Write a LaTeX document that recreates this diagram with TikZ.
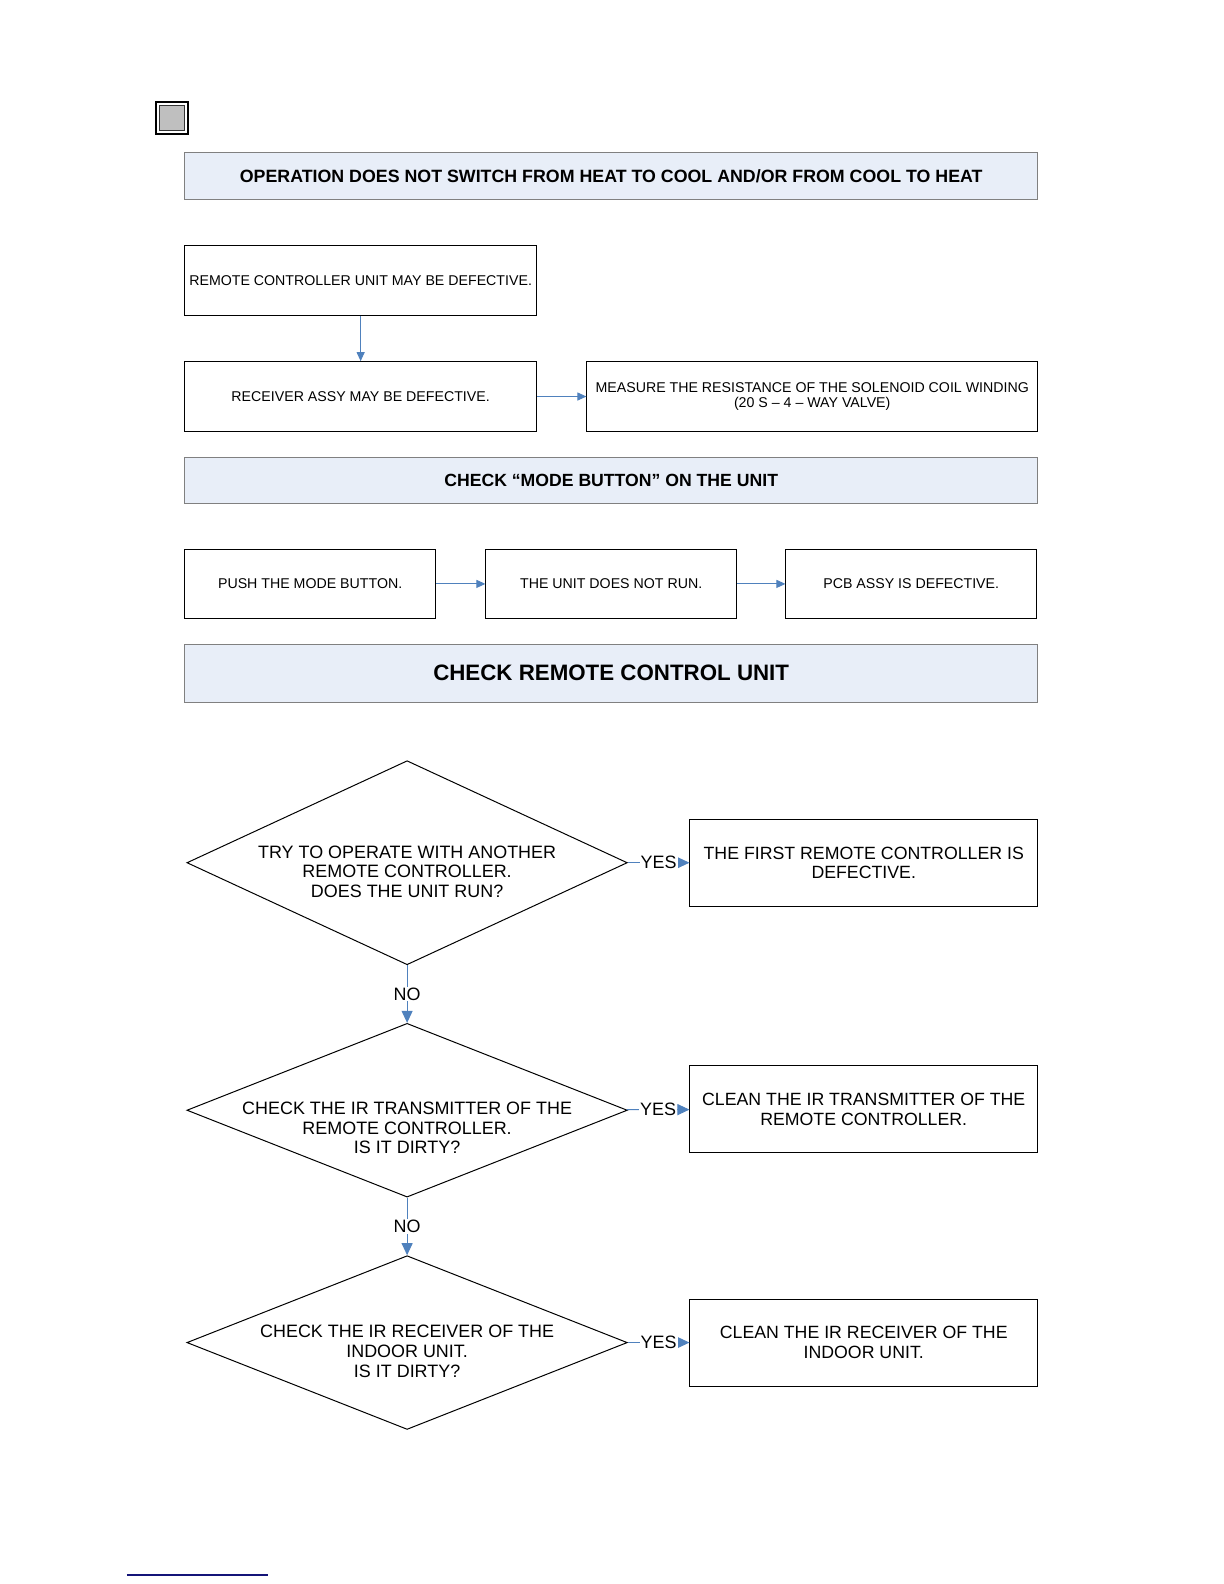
\documentclass[tikz,border=0pt]{standalone}
\usepackage{fontspec}
\setmainfont{Liberation Sans}
\usetikzlibrary{shapes.geometric,arrows.meta}

\definecolor{headfill}{RGB}{232,238,248}
\definecolor{headline}{RGB}{128,128,128}
\definecolor{flow}{RGB}{79,129,189}
\definecolor{footrule}{RGB}{20,20,120}

\newdimen\pxunit
\pxunit=0.5051bp

% lowers the text of a diamond, keeping its size
\newcommand{\downtext}[2]{\raisebox{-#1}[\height][\depth]{\begin{tabular}{@{}c@{}}#2\end{tabular}}}

\begin{document}
\begin{tikzpicture}[x=\pxunit,y=-\pxunit]

      \useasboundingbox (0,0) rectangle (1211.6,1568);

      % corner mark
      \node[draw,line width=1.1bp,minimum size=16bp,inner sep=0] (mark) at (170.5,116.5) {};
      \node[draw=black!80,fill=black!25,line width=0.4bp,minimum size=12.5bp,inner sep=0] (markin) at (mark) {};

      \begin{scope}[every node/.style={draw=headline,fill=headfill,line width=0.5bp,minimum width=844\pxunit,inner sep=0,font=\bfseries\fontsize{8.93}{10}\selectfont}]
        \node[minimum height=46\pxunit] (heat)    at (605,174)   {OPERATION DOES NOT SWITCH FROM HEAT TO COOL AND/OR FROM COOL TO HEAT};
        \node[minimum height=45\pxunit,font=\bfseries\fontsize{8.85}{10}\selectfont] (mode) at (605,475.5) {CHECK “MODE BUTTON” ON THE UNIT};
        \node[minimum height=57\pxunit,font=\bfseries\fontsize{11.2}{13}\selectfont] (remunit) at (605,666.5) {CHECK REMOTE CONTROL UNIT};
      \end{scope}

      \begin{scope}[every node/.style={draw,line width=0.5bp,inner sep=0,align=center,font=\fontsize{7.12}{8}\selectfont}]
        \node[minimum width=348\pxunit,minimum height=69\pxunit] (remote)   at (357,277.5) {REMOTE CONTROLLER UNIT MAY BE DEFECTIVE.};
        \node[minimum width=348\pxunit,minimum height=69\pxunit] (receiver) at (357,392.5) {RECEIVER ASSY MAY BE DEFECTIVE.};
        \node[minimum width=446\pxunit,minimum height=69\pxunit] (measure)  at (804,392.5) {MEASURE THE RESISTANCE OF THE SOLENOID COIL WINDING\\(20 S -- 4 -- WAY VALVE)};
        \node[minimum width=248\pxunit,minimum height=68\pxunit] (push)     at (307,578)   {PUSH THE MODE BUTTON.};
        \node[minimum width=248\pxunit,minimum height=68\pxunit] (norun)    at (605,578)   {THE UNIT DOES NOT RUN.};
        \node[minimum width=248\pxunit,minimum height=68\pxunit] (pcb)      at (902,578)   {PCB ASSY IS DEFECTIVE.};
      \end{scope}

      \begin{scope}[every node/.style={draw,line width=0.5bp,inner sep=0,align=center,minimum width=344\pxunit,minimum height=86\pxunit,font=\fontsize{8.9}{9.8}\selectfont}]
        \node (first)  at (855,854)  {THE FIRST REMOTE CONTROLLER IS\\DEFECTIVE.};
        \node (cleant) at (855,1098) {CLEAN THE IR TRANSMITTER OF THE\\REMOTE CONTROLLER.};
        \node (cleanr) at (855,1329) {CLEAN THE IR RECEIVER OF THE\\INDOOR UNIT.};
      \end{scope}

      \begin{scope}[every node/.style={diamond,draw,line width=0.5bp,aspect=2.5,inner xsep=-16bp,inner ysep=-6bp,minimum width=436\pxunit,font=\fontsize{9}{9.8}\selectfont}]
        \node[minimum height=202\pxunit] (try)      at (403,854)  {\downtext{5.5bp}{TRY TO OPERATE WITH ANOTHER\\REMOTE CONTROLLER.\\DOES THE UNIT RUN?}};
        \node[minimum height=172\pxunit] (transmit) at (403,1099) {\downtext{10bp}{CHECK THE IR TRANSMITTER OF THE\\REMOTE CONTROLLER.\\IS IT DIRTY?}};
        \node[minimum height=172\pxunit] (receive)  at (403,1329) {\downtext{5.5bp}{CHECK THE IR RECEIVER OF THE\\INDOOR UNIT.\\IS IT DIRTY?}};
      \end{scope}

      \begin{scope}[every edge/.style={draw,flow,line width=0.5bp,-{Triangle[length=4.5bp,width=4bp]}}]
        \path (remote)   edge (receiver);
        \path (receiver) edge (measure);
        \path (push)     edge (norun);
        \path (norun)    edge (pcb);
      \end{scope}

      \begin{scope}[every node/.style={fill=white,text=black,inner sep=0.5bp,font=\fontsize{9}{10}\selectfont},
                    every edge/.style={draw,flow,line width=0.5bp,-{Triangle[length=6bp,width=5.5bp]}}]
        \path (try)      edge node {YES} (first);
        \path (try)      edge node {NO}  (transmit);
        \path (transmit) edge node {YES} (cleant);
        \path (transmit) edge node {NO}  (receive);
        \path (receive)  edge node {YES} (cleanr);
      \end{scope}

      % footnote rule
      \draw[footrule,line width=1bp] (125.7,1559) -- (265.3,1559);

    \end{tikzpicture}
\end{document}
